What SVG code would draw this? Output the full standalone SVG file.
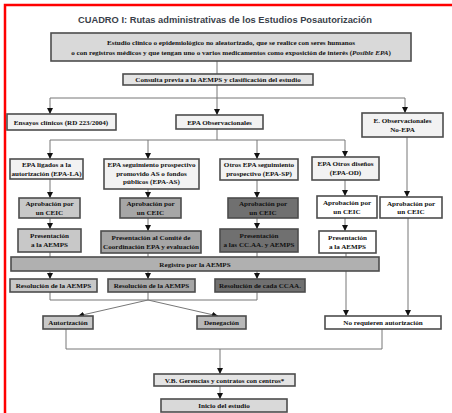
<svg xmlns="http://www.w3.org/2000/svg" width="452" height="413" viewBox="0 0 452 413">
<defs>
<marker id="ah" viewBox="0 0 10 10" refX="10" refY="5" markerWidth="6" markerHeight="6" orient="auto" markerUnits="userSpaceOnUse">
<path d="M0,0 L10,5 L0,10 z" fill="#111"/>
</marker>
<style>
.b{stroke:#4d4d4d;stroke-width:1.6}
.t{font-family:"Liberation Serif","Times New Roman",serif;font-weight:bold;font-size:7.1px;fill:#111;text-anchor:middle}
.c{fill:none;stroke:#777;stroke-width:1}
.a{fill:none;stroke:#777;stroke-width:1;marker-end:url(#ah)}
.l0{fill:#f2f2f2}.l1{fill:#c8c8c8}.l2{fill:#a6a6a6}.l3{fill:#707070}.w{fill:#fff}
</style>
</defs>
<rect width="452" height="413" fill="#fff"/>
<rect x="5" y="5" width="470" height="430" fill="none" stroke="#f00" stroke-width="2.5"/>
<text x="225" y="23" font-family="Liberation Sans, Arial, sans-serif" font-size="9.3" font-weight="bold" fill="#3a3f4a" text-anchor="middle">CUADRO I: Rutas administrativas de los Estudios Posautorización</text>

<g id="connectors">
<path class="c" d="M217,61 V74"/>
<path class="c" d="M217,85 V98 M50,98 H405"/>
<path class="a" d="M50,98 V114"/>
<path class="a" d="M217,98 V115"/>
<path class="a" d="M405,98 V113"/>
<path class="c" d="M217,129 V140 M50,140 H345"/>
<path class="a" d="M50,140 V159"/>
<path class="a" d="M148,140 V159"/>
<path class="a" d="M257,140 V159"/>
<path class="a" d="M345,140 V157"/>
<path class="a" d="M407,137 V197"/>
<path class="a" d="M50,179 V198"/>
<path class="a" d="M148,189 V198"/>
<path class="a" d="M257,180 V198"/>
<path class="a" d="M345,180 V196"/>
<path class="a" d="M50,218 V229"/>
<path class="a" d="M148,218 V231"/>
<path class="a" d="M257,218 V229"/>
<path class="a" d="M345,218 V231"/>
<path class="c" d="M50,252 V257 M148,253 V257 M257,252 V257"/>
<path class="a" d="M50,271 V279"/>
<path class="a" d="M148,271 V279"/>
<path class="a" d="M257,271 V279"/>
<path class="a" d="M346,253 V316"/>
<path class="a" d="M408,218 V316"/>
<path class="c" d="M50,292 V300 M148,292 V300 M257,292 V300 M50,300 H257"/>
<path class="a" d="M148,300 L78,316"/>
<path class="a" d="M148,300 L218,316"/>
<path class="c" d="M66,329 V349 M382,329 V349 M66,349 H382"/>
<path class="a" d="M220,349 V374"/>
<path class="a" d="M220,386 V399"/>
</g>

<g id="n-estudio"><rect class="b" x="51" y="33" width="360" height="28" fill="#d9d9d9"/>
<text class="t" x="231" y="45">Estudio clínico o epidemiológico no aleatorizado, que se realice con seres humanos</text>
<text class="t" x="231" y="55">o con registros médicos y que tengan uno o varios medicamentos como exposición de interés (<tspan font-style="italic">Posible EPA</tspan>)</text></g>
<g id="n-consulta"><rect class="b" x="123" y="74" width="190" height="11" fill="#e4e4e4"/>
<text class="t" x="218" y="82">Consulta previa a la AEMPS y clasificación del estudio</text></g>
<g id="n-ensayos"><rect class="b l0" x="7" y="114" width="109" height="16"/>
<text class="t" x="61" y="124.5">Ensayos clínicos (RD 223/2004)</text></g>
<g id="n-epaobs"><rect class="b l0" x="176" y="115" width="87" height="14"/>
<text class="t" x="219.5" y="124.5">EPA Observacionales</text></g>
<g id="n-noepa"><rect class="b l0" x="362" y="113" width="81" height="24"/>
<text class="t" x="402.5" y="122.5">E. Observacionales</text>
<text class="t" x="402.5" y="132">No-EPA</text></g>

<g id="n-la"><rect class="b l0" x="10" y="159" width="73" height="20"/>
<text class="t" x="46.5" y="167">EPA ligados a la</text>
<text class="t" x="46.5" y="175.5">autorización (EPA-LA)</text></g>
<g id="n-as"><rect class="b l0" x="104" y="159" width="95" height="30"/>
<text class="t" x="151.5" y="167">EPA seguimiento prospectivo</text>
<text class="t" x="151.5" y="175.5">promovido AS o fondos</text>
<text class="t" x="151.5" y="184">públicos (EPA-AS)</text></g>
<g id="n-sp"><rect class="b l0" x="220" y="159" width="78" height="21"/>
<text class="t" x="259" y="167">Otros EPA seguimiento</text>
<text class="t" x="259" y="175.5">prospectivo (EPA-SP)</text></g>
<g id="n-od"><rect class="b l0" x="312" y="157" width="67" height="23"/>
<text class="t" x="345.5" y="166">EPA Otros diseños</text>
<text class="t" x="345.5" y="174.5">(EPA-OD)</text></g>

<g id="n-ceic-la"><rect class="b l1" x="19" y="198" width="61" height="20"/>
<text class="t" x="49.5" y="206">Aprobación por</text><text class="t" x="49.5" y="214.5">un CEIC</text></g>
<g id="n-ceic-as"><rect class="b l2" x="120" y="198" width="61" height="20"/>
<text class="t" x="150.5" y="206">Aprobación por</text><text class="t" x="150.5" y="214.5">un CEIC</text></g>
<g id="n-ceic-sp"><rect class="b l3" x="228" y="198" width="70" height="20"/>
<text class="t" x="263" y="206">Aprobación por</text><text class="t" x="263" y="214.5">un CEIC</text></g>
<g id="n-ceic-od"><rect class="b w" x="317" y="196" width="60" height="22"/>
<text class="t" x="347" y="205">Aprobación por</text><text class="t" x="347" y="213.5">un CEIC</text></g>
<g id="n-ceic-noepa"><rect class="b w" x="380" y="197" width="62" height="21"/>
<text class="t" x="411" y="205.5">Aprobación por</text><text class="t" x="411" y="214">un CEIC</text></g>

<g id="n-pres-la"><rect class="b l1" x="18" y="229" width="63" height="23"/>
<text class="t" x="49.5" y="238">Presentación</text><text class="t" x="49.5" y="247">a la AEMPS</text></g>
<g id="n-pres-as"><rect class="b l2" x="101" y="231" width="100" height="22"/>
<text class="t" x="151" y="240">Presentación al Comité de</text><text class="t" x="151" y="249">Coordinación EPA y evaluación</text></g>
<g id="n-pres-sp"><rect class="b l3" x="220" y="229" width="78" height="23"/>
<text class="t" x="259" y="238">Presentación</text><text class="t" x="259" y="247">a las CC.AA. y AEMPS</text></g>
<g id="n-pres-od"><rect class="b w" x="319" y="231" width="57" height="22"/>
<text class="t" x="347.5" y="240">Presentación</text><text class="t" x="347.5" y="249">a la AEMPS</text></g>

<g id="n-registro"><rect class="b" x="11" y="257" width="368" height="14" fill="#b0b0b0"/>
<text class="t" x="195" y="266.5">Registro por la AEMPS</text></g>

<g id="n-res-la"><rect class="b l1" x="10" y="279" width="87" height="13"/>
<text class="t" x="53.5" y="288">Resolución de la AEMPS</text></g>
<g id="n-res-as"><rect class="b l2" x="108" y="279" width="87" height="13"/>
<text class="t" x="151.5" y="288">Resolución de la AEMPS</text></g>
<g id="n-res-sp"><rect class="b l3" x="215" y="279" width="90" height="13"/>
<text class="t" x="260" y="288">Resolución de cada CCAA.</text></g>

<g id="n-autorizacion"><rect class="b l1" x="43" y="316" width="50" height="13"/>
<text class="t" x="68" y="325">Autorización</text></g>
<g id="n-denegacion"><rect class="b" x="197" y="316" width="49" height="13" fill="#b8b8b8"/>
<text class="t" x="221.5" y="325">Denegación</text></g>
<g id="n-norequieren"><rect class="b w" x="325" y="316" width="116" height="13"/>
<text class="t" x="383" y="325">No requieren autorización</text></g>

<g id="n-vb"><rect class="b" x="154" y="374" width="141" height="12" fill="#e4e4e4"/>
<text class="t" x="224.5" y="382.5">V.B. Gerencias y contratos con centros*</text></g>
<g id="n-inicio"><rect class="b" x="161" y="399" width="126" height="13" fill="#d9d9d9"/>
<text class="t" x="224" y="408">Inicio del estudio</text></g>
</svg>
